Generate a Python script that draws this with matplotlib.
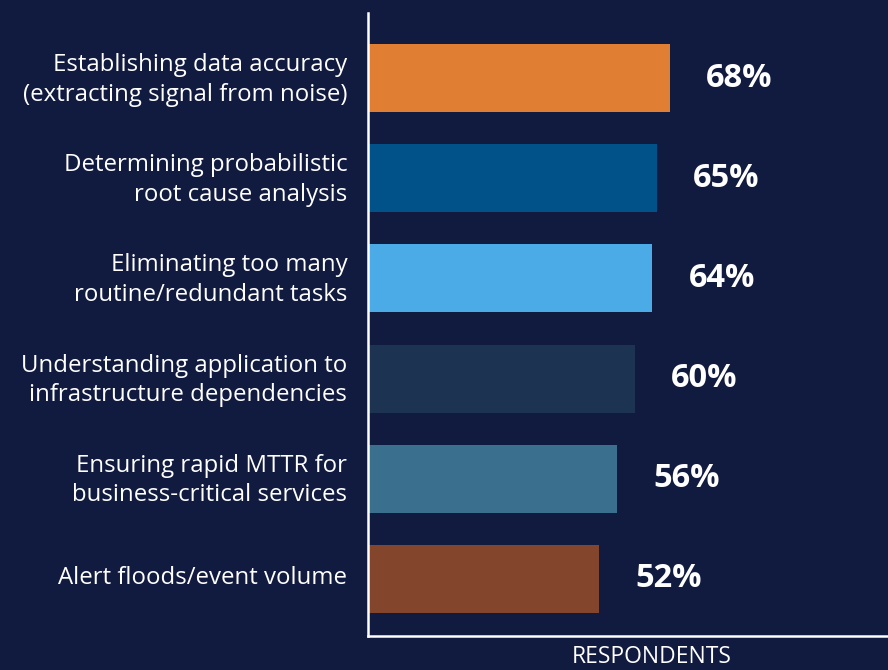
import numpy as np
import matplotlib.pyplot as plt
import matplotlib.transforms as mtransforms

categories = [
    'Establishing data accuracy\n(extracting signal from noise)',
    'Determining probabilistic\nroot cause analysis',
    'Eliminating too many\nroutine/redundant tasks',
    'Understanding application to\ninfrastructure dependencies',
    'Ensuring rapid MTTR for\nbusiness-critical services',
    'Alert floods/event volume',
]
values = [68, 65, 64, 60, 56, 52]
colors = ['#E07E33', '#005289', '#4AABE6', '#1D3352', '#3B6F8E', '#84452D']

bg = '#111A3F'
plt.rcParams['font.family'] = ['Open Sans', 'DejaVu Sans']

fig = plt.figure(figsize=(8.88, 6.70), dpi=100, facecolor=bg)
ax = fig.add_axes([368 / 888, 1 - 636 / 670, 1 - 368 / 888, (636 - 13) / 670])
ax.set_facecolor(bg)

y = np.arange(len(categories))
ax.barh(y, values, height=0.68, color=colors)
ax.set_xlim(0, 117)
ax.set_ylim(5.57, -0.65)

for yi, v in zip(y, values):
    ax.annotate(f'{v}%', (v, yi), xytext=(26, 0), textcoords='offset points',
                ha='left', va='center', color='white', fontsize=23.5, fontweight='bold')

ax.set_yticks(y)
ax.set_yticklabels(categories, color='white', fontsize=17.3, linespacing=1.3)
ax.tick_params(axis='y', length=0, pad=15)
ax.set_xticks([])

# nudge the category labels up a little so they sit centred on the bars
shift = mtransforms.ScaledTranslation(0, 4 / 100, fig.dpi_scale_trans)
for lbl in ax.get_yticklabels():
    lbl.set_transform(lbl.get_transform() + shift)

for s in ['top', 'right']:
    ax.spines[s].set_visible(False)
for s in ['left', 'bottom']:
    ax.spines[s].set_color('white')
    ax.spines[s].set_linewidth(1.8)

fig.text(652 / 888, 1 - 645 / 670, 'RESPONDENTS', ha='center', va='top',
         color='white', fontsize=16.5)

fig.savefig('out.png', dpi=100, facecolor=bg)
